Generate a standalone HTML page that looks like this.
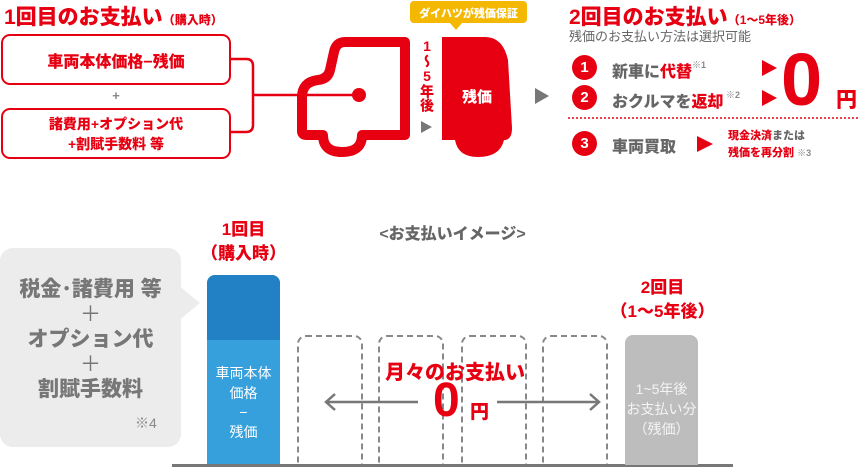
<!DOCTYPE html>
<html><head><meta charset="utf-8"><style>
*{margin:0;padding:0;box-sizing:border-box}
body{width:860px;height:467px;background:#fff;position:relative;overflow:hidden;font-family:"Liberation Sans","Noto Sans CJK JP",sans-serif;font-weight:900}
.a{position:absolute;white-space:nowrap}
.r{color:#e60012}.g{color:#666}
.c{text-align:center}
.box{position:absolute;border:2.5px solid #e60012;border-radius:9px;left:1px;width:230px;height:51px}
.circ{position:absolute;width:25px;height:25px;border-radius:50%;background:#e60012;color:#fff;font-size:15px;text-align:center;line-height:25px}
.dash{position:absolute;top:335px;width:66px;height:131px;border:2px dashed #888;border-bottom:none;border-radius:9px 9px 0 0}
</style></head><body>
<div class="a r" style="left:4px;top:1px;font-size:21px">1回目のお支払い<span style="font-size:12px">（購入時）</span></div>
<div class="box" style="top:34px"></div>
<div class="a r c" style="left:1px;width:230px;top:48px;font-size:16px">車両本体価格−残価</div>
<div class="a g c" style="left:1px;width:230px;top:88px;font-size:13px;color:#888">+</div>
<div class="box" style="top:108px"></div>
<div class="a r c" style="left:1px;width:230px;top:114px;font-size:14px;line-height:20px">諸費用+オプション代<br>+割賦手数料 等</div>
<svg class="a" style="left:0;top:0" width="860" height="200">
<path d="M231 59 H246 Q253 59 253 66 V125 Q253 132 246 132 H231" fill="none" stroke="#e60012" stroke-width="2.5"/>
<line x1="253" y1="95" x2="359" y2="95" stroke="#e60012" stroke-width="2.5"/>
<path d="M405 42 H345 Q336 42 334 52 L330 70 Q328 79 318 80 Q302 82 302 97 V131 Q302 135 306 135 H323 Q323 152 342 152 Q362 152 362 135 H405 Z" fill="none" stroke="#e60012" stroke-width="10" stroke-linejoin="round"/>
<circle cx="359" cy="95" r="7" fill="#e60012"/>
<path d="M442 37 H485 Q503 37 508 60 L512 128 Q512 140 504 140 Q500 157 478 157 Q458 157 455 140 H442 Z" fill="#e60012"/>
<rect x="410" y="1" width="117" height="22" rx="4" fill="#f5b800"/>
<path d="M450 23 L456 30 L462 23Z" fill="#f5b800"/>
<path d="M421 121 L432 127 L421 133Z" fill="#777"/>
<path d="M535 88 L549 96 L535 104Z" fill="#777"/>
<path d="M762 60 L777 68 L762 76Z" fill="#e60012"/>
<path d="M762 90 L777 98 L762 106Z" fill="#e60012"/>
<path d="M697 136 L713 144 L697 152Z" fill="#e60012"/>
<line x1="568" y1="118" x2="860" y2="118" stroke="#e60012" stroke-width="1.5" stroke-dasharray="2 2"/>
</svg>
<div class="a" style="left:410px;top:5px;width:117px;text-align:center;color:#fff;font-size:11px">ダイハツが残価保証</div>
<div class="a r" style="left:418px;top:38px;font-size:14px;line-height:18px;writing-mode:vertical-rl;text-orientation:upright;letter-spacing:0">1〜5年後</div>
<div class="a c" style="left:442px;width:70px;top:86px;color:#fff;font-size:15px">残価</div>
<div class="a r" style="left:569px;top:1px;font-size:21px">2回目のお支払い<span style="font-size:12px">（1〜5年後）</span></div>
<div class="a g" style="left:569px;top:26px;font-size:13px;font-weight:normal">残価のお支払い方法は選択可能</div>
<div class="circ" style="left:572px;top:55px">1</div>
<div class="circ" style="left:572px;top:85px">2</div>
<div class="circ" style="left:572px;top:131px">3</div>
<div class="a g" style="left:612px;top:58px;font-size:16px">新車に<span class="r">代替</span><span style="font-size:9px;vertical-align:top;color:#888">※1</span></div>
<div class="a g" style="left:612px;top:88px;font-size:16px">おクルマを<span class="r">返却</span><span style="font-size:9px;vertical-align:top;color:#888"> ※2</span></div>
<div class="a r" style="left:781px;top:38px;font-size:74px;line-height:84px">0</div>
<div class="a r" style="left:836px;top:84px;font-size:21px">円</div>
<div class="a g" style="left:612px;top:133px;font-size:16px">車両買取</div>
<div class="a r" style="left:728px;top:128px;font-size:11px;line-height:17px">現金決済<span class="g">または</span><br>残価を再分割 <span style="color:#888;font-size:9px">※3</span></div>

<div class="a" style="left:0;top:248px;width:181px;height:199px;background:#ececec;border-radius:13px"></div>
<svg class="a" style="left:178px;top:285px" width="25" height="36"><path d="M0 0 L22 18 L0 36Z" fill="#ececec"/></svg>
<div class="a c" style="left:0;width:181px;top:277px;color:#777;font-size:21px;line-height:25px">税金･諸費用 等<br><span style="font-weight:normal">＋</span><br>オプション代<br><span style="font-weight:normal">＋</span><br>割賦手数料</div>
<div class="a" style="left:135px;top:413px;color:#888;font-size:14px;font-weight:normal">※4</div>

<div class="a r c" style="left:195px;width:97px;top:218px;font-size:17px;line-height:24px">1回目<br>（購入時）</div>
<div class="a" style="left:207px;top:275px;width:73px;height:191px;background:#35a0dc;border-radius:8px 8px 0 0;overflow:hidden"><div style="height:65px;background:#2281c4"></div></div>
<div class="a c" style="left:207px;width:73px;top:364px;color:#fff;font-size:14px;font-weight:normal;line-height:19.5px">車両本体<br>価格<br>−<br>残価</div>

<div class="a g c" style="left:340px;width:225px;top:220px;font-size:16px">&lt;お支払いイメージ&gt;</div>
<div class="dash" style="left:297px"></div>
<div class="dash" style="left:378px"></div>
<div class="dash" style="left:461px"></div>
<div class="dash" style="left:542px"></div>
<div class="a r c" style="left:360px;width:190px;top:356px;font-size:20px">月々のお支払い</div>
<div class="a r" style="left:433px;top:376px;font-size:48px;line-height:50px">0</div>
<div class="a r" style="left:470px;top:397px;font-size:19px">円</div>
<svg class="a" style="left:0;top:0" width="860" height="467">
<g stroke="#777" stroke-width="2.5" fill="none">
<line x1="326" y1="402" x2="418" y2="402"/><path d="M335 394 L326 402 L335 410"/>
<line x1="497" y1="402" x2="599" y2="402"/><path d="M590 394 L599 402 L590 410"/>
</g>
<line x1="172" y1="465.5" x2="733" y2="465.5" stroke="#777" stroke-width="3"/>
</svg>
<div class="a r c" style="left:600px;width:125px;top:276px;font-size:17px;line-height:24px">2回目<br>（1〜5年後）</div>
<div class="a" style="left:625px;top:335px;width:73px;height:130px;background:#bdbdbd;border-radius:8px 8px 0 0"></div>
<div class="a c" style="left:620px;width:83px;top:379px;color:#f4f4f4;font-size:14px;font-weight:normal;line-height:20px">1~5年後<br>お支払い分<br>（残価）</div>
</body></html>
